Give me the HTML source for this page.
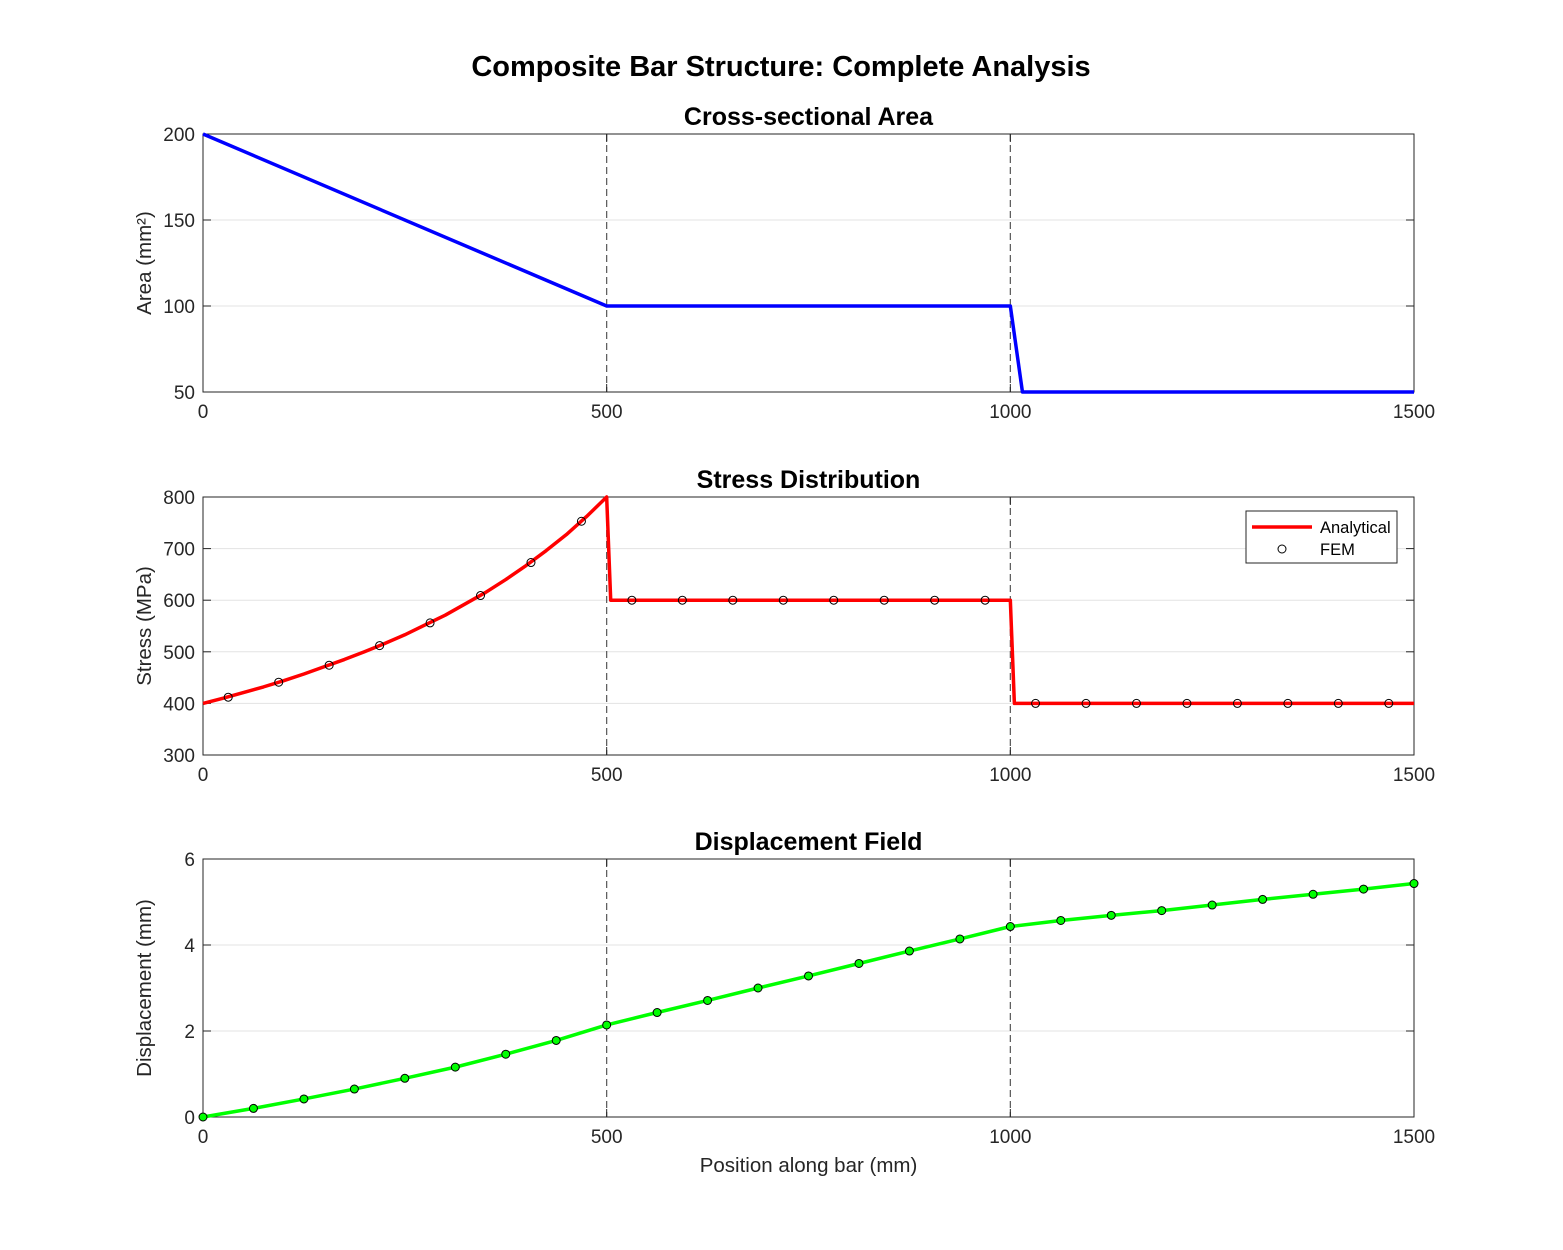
<!DOCTYPE html>
<html><head><meta charset="utf-8"><style>
body{margin:0;background:#fff;}
svg{display:block;font-family:"Liberation Sans",Arial,sans-serif;}
</style></head><body>
<svg id="fig" width="1563" height="1250" viewBox="0 0 1563 1250" xmlns="http://www.w3.org/2000/svg">
<rect width="1563" height="1250" fill="#fff"/>
<text x="781" y="76" text-anchor="middle" font-size="29" font-weight="bold">Composite Bar Structure: Complete Analysis</text>
</svg>
<script>
const xTicks=[0,500,1000,1500];
const boundaries=[500,1000];
const areaX=[0,500,1000,1015,1500];
const areaY=[200,100,100,50,50];
const stressX=[0,25,50,75,100,125,150,175,200,225,250,275,300,325,350,375,400,425,450,475,500,505,1000,1005,1500];
const stressY=[400,410,421,432,444,457,471,485,500,516,533,552,571,593,615,640,667,696,727,762,800,600,600,400,400];
const femStressX=[31.25,93.75,156.25,218.75,281.25,343.75,406.25,468.75,531.25,593.75,656.25,718.75,781.25,843.75,906.25,968.75,1031.25,1093.75,1156.25,1218.75,1281.25,1343.75,1406.25,1468.75];
const femStressY=[412,441,474,512,556,609,673,753,600,600,600,600,600,600,600,600,400,400,400,400,400,400,400,400];
const dispX=[0,62.5,125,187.5,250,312.5,375,437.5,500,562.5,625,687.5,750,812.5,875,937.5,1000,1062.5,1125,1187.5,1250,1312.5,1375,1437.5,1500];
const dispY=[0,0.2,0.42,0.65,0.9,1.16,1.46,1.78,2.14,2.43,2.71,3.0,3.28,3.57,3.86,4.14,4.43,4.57,4.69,4.8,4.93,5.06,5.18,5.3,5.43];
const areaTicks=[50,100,150,200];
const stressTicks=[300,400,500,600,700,800];
const dispTicks=[0,2,4,6];

const NS="http://www.w3.org/2000/svg";
const svg=document.getElementById('fig');
function mk(tag,attrs,parent){const e=document.createElementNS(NS,tag);for(const k in attrs)e.setAttribute(k,attrs[k]);(parent||svg).appendChild(e);return e;}
const L=203,R=1414;
function sx(v){return L+(v-0)/(1500-0)*(R-L);}

function panel(name,top,bottom,ymin,ymax,yTicks,title,ylabel){
  const g=mk('g',{});
  
  
  const sy=v=>bottom-(v-ymin)/(ymax-ymin)*(bottom-top);
  yTicks.forEach(t=>{
    if(t!==ymin&&t!==ymax){const gl=mk('line',{x1:L,x2:R,y1:sy(t),y2:sy(t),stroke:'#e3e3e3','stroke-width':1},g);
    
    }
  });
  boundaries.forEach(b=>{
    const d=mk('line',{x1:sx(b),x2:sx(b),y1:top,y2:bottom,stroke:'#555','stroke-width':1.2,'stroke-dasharray':'7,4'},g);
    
    
  });
  const box=mk('rect',{x:L,y:top,width:R-L,height:bottom-top,fill:'none',stroke:'#262626','stroke-width':1},g);
  
  
  xTicks.forEach(t=>{
    mk('line',{x1:sx(t),x2:sx(t),y1:bottom,y2:bottom-8,stroke:'#262626'},g);
    mk('line',{x1:sx(t),x2:sx(t),y1:top,y2:top+8,stroke:'#262626'},g);
    const tx=mk('text',{x:sx(t),y:bottom+26,'text-anchor':'middle','font-size':19,fill:'#262626'},g);
    tx.textContent=t;
    
    
  });
  yTicks.forEach(t=>{
    mk('line',{x1:L,x2:L+8,y1:sy(t),y2:sy(t),stroke:'#262626'},g);
    mk('line',{x1:R,x2:R-8,y1:sy(t),y2:sy(t),stroke:'#262626'},g);
    const tx=mk('text',{x:L-8,y:sy(t)+7,'text-anchor':'end','font-size':19,fill:'#262626'},g);
    tx.textContent=t;
    
    
  });
  const tt=mk('text',{x:(L+R)/2,y:top-9,'text-anchor':'middle','font-size':25,'font-weight':'bold',fill:'#000'},g);
  tt.textContent=title;
  
  
  const yl=mk('text',{transform:`translate(${L-52},${(top+bottom)/2}) rotate(-90)`,'text-anchor':'middle','font-size':20.5,fill:'#262626'},g);
  yl.textContent=ylabel;
  
  
  return {g,sy};
}
function line(g,xs,ys,sy,color,name){
  const p=mk('polyline',{points:xs.map((x,i)=>sx(x)+','+sy(ys[i])).join(' '),fill:'none',stroke:color,'stroke-width':3.5,'stroke-linejoin':'round'},g);
  
  
}
function pts(g,xs,ys,sy,fill,name){
  xs.forEach((x,i)=>{
    const c=mk('circle',{cx:sx(x),cy:sy(ys[i]),r:4,fill:fill,stroke:'#000','stroke-width':1},g);
    
    
  });
}

const p1=panel('area-panel',134,392,50,200,areaTicks,'Cross-sectional Area','Area (mm²)');
line(p1.g,areaX,areaY,p1.sy,'#0000ff','area-line');

const p2=panel('stress-panel',497,755,300,800,stressTicks,'Stress Distribution','Stress (MPa)');
line(p2.g,stressX,stressY,p2.sy,'#ff0000','stress-analytical-line');
pts(p2.g,femStressX,femStressY,p2.sy,'none','stress-fem-point');
const lg=mk('g',{},p2.g);


mk('rect',{x:1246,y:511,width:151,height:52,fill:'#fff',stroke:'#262626','stroke-width':1},lg);
mk('line',{x1:1252,x2:1312,y1:527,y2:527,stroke:'#ff0000','stroke-width':3.5},lg);
const l1=mk('text',{x:1320,y:533,'font-size':16.5,fill:'#000'},lg);l1.textContent='Analytical';


mk('circle',{cx:1282,cy:549,r:4,fill:'none',stroke:'#000'},lg);
const l2=mk('text',{x:1320,y:555,'font-size':16.5,fill:'#000'},lg);l2.textContent='FEM';



const p3=panel('displacement-panel',859,1117,0,6,dispTicks,'Displacement Field','Displacement (mm)');
line(p3.g,dispX,dispY,p3.sy,'#00ff00','displacement-line');
pts(p3.g,dispX,dispY,p3.sy,'#00ff00','displacement-fem-point');
const xl=mk('text',{x:(L+R)/2,y:1172,'text-anchor':'middle','font-size':20.5,fill:'#262626'});
xl.textContent='Position along bar (mm)';


</script>
</body></html>
